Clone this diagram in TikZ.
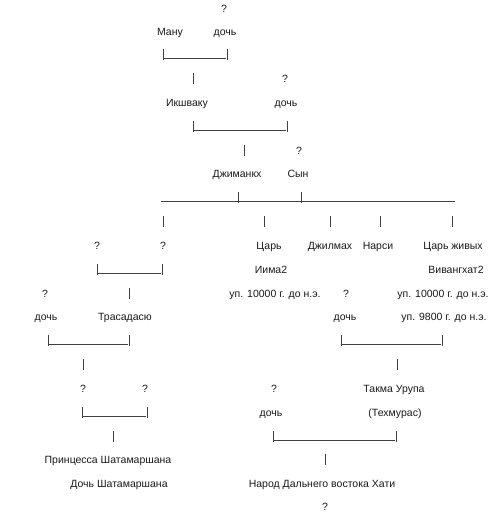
\documentclass[tikz,border=0pt]{standalone}
\usepackage{fontspec}
\setmainfont{Liberation Sans}
\usepackage{tikz}

\begin{document}
\begin{tikzpicture}[x=1pt,y=-1pt,line cap=butt]
  \tikzset{lbl/.style={anchor=base,inner sep=0pt,font=\fontsize{10.5}{12}\selectfont,text=black!90},
           link/.style={line width=0.7pt,draw=black!75}}

  \path[use as bounding box] (0,0) rectangle (504,515);

  % brackets |____|
  \foreach \xa/\xb/\yy in {163/227/54,193/287/126,97/162/269,48/129/340,341/442/340,82/147/412,273/396/436} {
    \draw[link] (\xa,\yy-5.5) -- (\xa,\yy+5.5);
    \draw[link] (\xb,\yy-5.5) -- (\xb,\yy+5.5);
    \draw[link] (\xa+1,\yy+4.5) -- (\xb-1,\yy+4.5);
  }
  % long line of the sons
  \coordinate (lineL) at (161,201.5);
  \coordinate (lineR) at (455,201.5);
  \draw[link] (lineL) -- (lineR);
  \foreach \xx in {238,301} {
    \draw[link] (\xx,191.5) -- (\xx,202.5);
  }
  % single bars
  \foreach \xx/\yy in {193/78,244/150,163/221,264/221,330/221,380/221,452/221,129/293,83/364,397/364,113/436,325/459} {
    \draw[link] (\xx,\yy-5.5) -- (\xx,\yy+5.5);
  }

  \node[lbl] (q0) at (224,12) {?};
  \node[lbl] (manu) at (170,35) {Ману};
  \node[lbl] (dochA) at (225,35) {дочь};
  \node[lbl] (q1) at (285,82) {?};
  \node[lbl] (ikshvaku) at (187,106) {Икшваку};
  \node[lbl] (dochB) at (286,106) {дочь};
  \node[lbl] (q2) at (299,154) {?};
  \node[lbl] (dzhimankh) at (237,177) {Джиманкх};
  \node[lbl] (syn) at (298,177) {Сын};

  \node[lbl] (q3) at (97,249) {?};
  \node[lbl] (q4) at (163,249) {?};
  \node[lbl] (tsar) at (269,249) {Царь};
  \node[lbl] (dzhilmakh) at (330,249) {Джилмах};
  \node[lbl] (narsi) at (378,249) {Нарси};
  \node[lbl] (tsarZh) at (453,249) {Царь живых};
  \node[lbl] (iima) at (271,273) {Иима2};
  \node[lbl] (vivang) at (456,273) {Вивангхат2};

  \node[lbl] (q5) at (45,297) {?};
  \node[lbl] (dateA) at (275,297) {уп. 10000 г. до н.э.};
  \node[lbl] (q6) at (346,297) {?};
  \node[lbl] (dateB) at (443,297) {уп. 10000 г. до н.э.};
  \node[lbl] (dochC) at (46,320) {дочь};
  \node[lbl] (trasa) at (125,320) {Трасадасю};
  \node[lbl] (dochD) at (345,320) {дочь};
  \node[lbl] (dateC) at (444,320) {уп. 9800 г. до н.э.};

  \node[lbl] (q7) at (83,392) {?};
  \node[lbl] (q8) at (145,392) {?};
  \node[lbl] (q9) at (274,392) {?};
  \node[lbl] (takma) at (394,392) {Такма Урупа};
  \node[lbl] (dochE) at (271,416) {дочь};
  \node[lbl] (tekhm) at (395,416) {(Техмурас)};

  \node[lbl] (printsessa) at (108,463) {Принцесса Шатамаршана};
  \node[lbl] (dochF) at (119,487) {Дочь Шатамаршана};
  \node[lbl] (narod) at (322,487) {Народ Дальнего востока Хати};
  \node[lbl] (q10) at (325,510) {?};
\end{tikzpicture}
\end{document}
